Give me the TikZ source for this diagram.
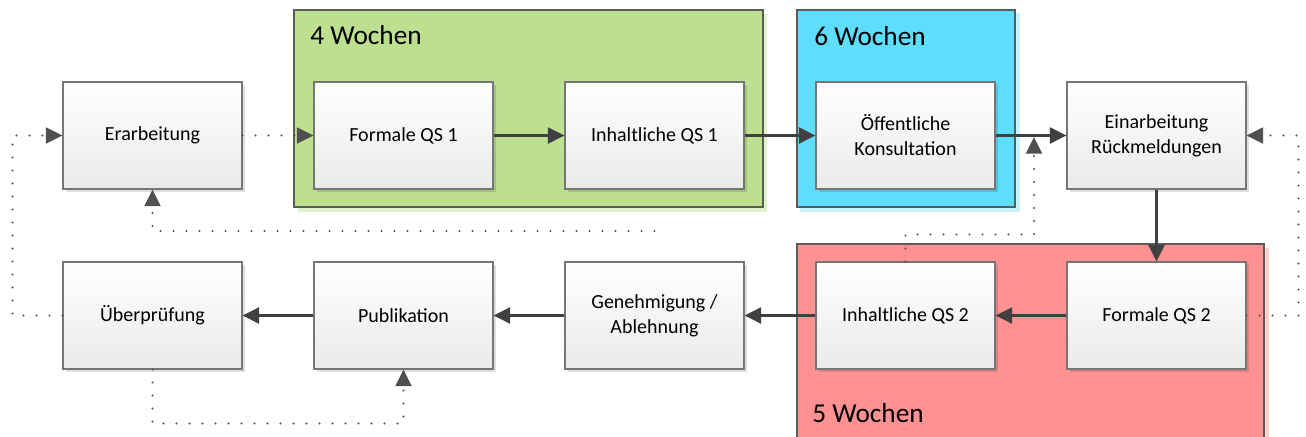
\documentclass[tikz,border=0pt]{standalone}
\usepackage{fontspec}
\setmainfont{Carlito}
\usetikzlibrary{arrows.meta,shadows}

\definecolor{linegray}{HTML}{404040}
\definecolor{dotgray}{HTML}{505050}
\definecolor{boxborder}{HTML}{767676}
\definecolor{boxbottom}{HTML}{EAEAEA}
\definecolor{grpedge}{HTML}{5A5A5A}
\definecolor{grpgreen}{RGB}{188,224,143}
\definecolor{grpblue}{RGB}{94,221,252}
\definecolor{grpred}{RGB}{254,145,145}

\begin{document}
\begin{tikzpicture}[x=0.75pt,y=-0.75pt,
  stepbox/.style={rectangle, draw=boxborder, line width=0.8pt,
    top color=white, bottom color=boxbottom,
    minimum width=134.25pt, minimum height=80.25pt, inner sep=0pt,
    align=center, font=\fontsize{15}{18.75}\selectfont,
    drop shadow={shadow xshift=2.2pt, shadow yshift=-2.2pt, fill=black, opacity=0.13}},
  grouplabel/.style={anchor=base west, inner sep=0pt, font=\fontsize{20.5}{24}\selectfont},
  groupframe/.style={draw=grpedge, line width=0.8pt},
  tip/.style={-{Triangle[length=12.5pt, width=12pt]}},
  flow/.style={tip, draw=linegray, line width=2pt},
  loopback/.style={tip, draw=dotgray, line width=1.6pt, line cap=round,
    dash pattern=on 0pt off 9.75pt},
]
\useasboundingbox (0,0) rectangle (1306,436);
\clip (0,0) rectangle (1306,436);

% time frames behind the steps
\fill[grpgreen!45] (298,14) rectangle (767,212);
\fill[grpblue!35] (800,13) rectangle (1020,212);
\fill[grpred!45] (801,248) rectangle (1269,450);
\draw[groupframe, fill=grpgreen] (294,10) rectangle (763,207);
\draw[groupframe, fill=grpblue] (797,10) rectangle (1015,207);
\draw[groupframe, fill=grpred] (797,244) rectangle (1264,450);
\node[grouplabel] (w4) at (310,44) {4 Wochen};
\node[grouplabel] (w6) at (814,45) {6 Wochen};
\node[grouplabel] (w5) at (812,422) {5 Wochen};

% process steps
\node[stepbox] (erarb)  at (152.5,135.5) {Erarbeitung};
\node[stepbox] (fqs1)   at (403.5,135.5) {Formale QS 1};
\node[stepbox] (iqs1)   at (654.5,135.5) {Inhaltliche QS 1};
\node[stepbox] (oeff)   at (905.5,135.5) {Öffentliche\\Konsultation};
\node[stepbox] (einarb) at (1156.5,135.5) {Einarbeitung\\Rückmeldungen};
\node[stepbox] (ueber)  at (152.5,315.5) {Überprüfung};
\node[stepbox] (pub)    at (403.5,315.5) {Publikation};
\node[stepbox] (gen)    at (654.5,315.5) {Genehmigung /\\Ablehnung};
\node[stepbox] (iqs2)   at (905.5,315.5) {Inhaltliche QS 2};
\node[stepbox] (fqs2)   at (1156.5,315.5) {Formale QS 2};

% main flow
\draw[flow] (fqs1) -- (iqs1);
\draw[flow] (iqs1) -- (oeff);
\draw[flow] (oeff) -- (einarb);
\draw[flow] (einarb) -- (fqs2);
\draw[flow] (fqs2) -- (iqs2);
\draw[flow] (iqs2) -- (gen);
\draw[flow] (gen) -- (pub);
\draw[flow] (pub) -- (ueber);

% feedback loops
\coordinate (merge) at (1034,137);
\coordinate (revise) at (654.5,231);
\draw[loopback] (erarb) -- (fqs1);
\draw[loopback] (ueber.west) -- ++(-50,0) |- (erarb.west);
\draw[loopback] (ueber.south) -- ++(0,54) -| (pub.south);
\draw[loopback] (iqs2.north) -- ++(0,-27) -| (merge);
\draw[loopback] (fqs2.east) -- ++(52,0) |- (einarb.east);
\draw[loopback] (revise) -| (erarb.south);
\end{tikzpicture}
\end{document}
